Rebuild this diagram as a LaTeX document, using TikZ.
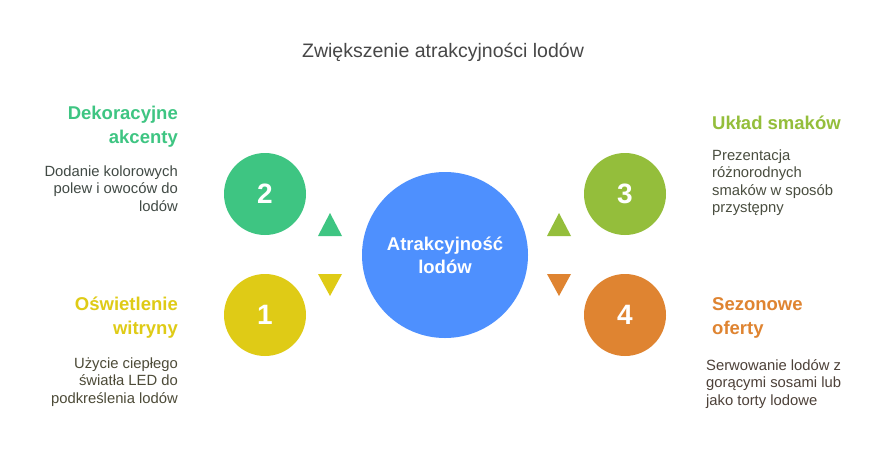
\documentclass[tikz,border=0pt]{standalone}
\usepackage{fontspec}
\setmainfont{Liberation Sans}
\definecolor{cgreen}{HTML}{3EC582}
\definecolor{cyellow}{HTML}{DFCB16}
\definecolor{colive}{HTML}{94BE3B}
\definecolor{corange}{HTML}{DF8431}
\definecolor{cblue}{HTML}{4E90FE}
\definecolor{ctitle}{HTML}{474747}
\definecolor{tgreen}{HTML}{414A45}
\definecolor{tyellow}{HTML}{4D4B38}
\definecolor{tolive}{HTML}{4A4E40}
\definecolor{torange}{HTML}{4D4139}
\tikzset{
  numcircle/.style={circle,minimum size=82pt,inner sep=0pt,text=white,font=\fontsize{28}{30}\selectfont\bfseries},
  head/.style={inner sep=0pt,font=\fontsize{18.5}{24}\selectfont\bfseries},
  body/.style={inner sep=0pt,font=\fontsize{14.8}{17.5}\selectfont}
}
\begin{document}
\begin{tikzpicture}[x=1pt,y=-1pt]
\useasboundingbox (0,0) rectangle (890,450);
\fill[white] (0,0) rectangle (890,450);
% title
\node[inner sep=0pt,anchor=base,text=ctitle,font=\fontsize{19.5}{22}\selectfont] (title) at (443,57) {Zwiększenie atrakcyjności lodów};
% centre
\node[circle,fill=cblue,minimum size=166pt,inner sep=0pt] (centre) at (445,255) {};
\node[inner sep=0pt,anchor=base,align=center,text=white,font=\fontsize{18.5}{23}\selectfont\bfseries] (ctext) at (445,273) {Atrakcyjność\\lodów};
% number circles
\node[numcircle,fill=cgreen] (c2) at (265,194) {2};
\node[numcircle,fill=cyellow] (c1) at (265,315) {1};
\node[numcircle,fill=colive] (c3) at (625,194) {3};
\node[numcircle,fill=corange] (c4) at (625,315) {4};
% triangles
\fill[cgreen] (318,236) -- (342,236) -- (330,213) -- cycle;
\fill[cyellow] (318,274) -- (342,274) -- (330,296) -- cycle;
\fill[colive] (547,236) -- (571,236) -- (559,213) -- cycle;
\fill[corange] (547,274) -- (571,274) -- (559,296) -- cycle;
% left top
\node[head,anchor=base east,align=right,text=cgreen] (h2) at (178,143) {Dekoracyjne\\akcenty};
\node[body,anchor=base east,align=right,text=tgreen] (b2) at (178,211) {Dodanie kolorowych\\polew i owoców do\\lodów};
% left bottom
\node[head,anchor=base east,align=right,text=cyellow] (h1) at (178,334) {Oświetlenie\\witryny};
\node[body,anchor=base east,align=right,text=tyellow] (b1) at (178,403) {Użycie ciepłego\\światła LED do\\podkreślenia lodów};
% right top
\node[head,anchor=base west,align=left,text=colive] (h3) at (712,129) {Układ smaków};
\node[body,anchor=base west,align=left,text=tolive] (b3) at (712,212.5) {Prezentacja\\różnorodnych\\smaków w sposób\\przystępny};
% right bottom
\node[head,anchor=base west,align=left,text=corange] (h4) at (712,334) {Sezonowe\\oferty};
\node[body,anchor=base west,align=left,text=torange] (b4) at (706,405) {Serwowanie lodów z\\gorącymi sosami lub\\jako torty lodowe};
\end{tikzpicture}
\end{document}
